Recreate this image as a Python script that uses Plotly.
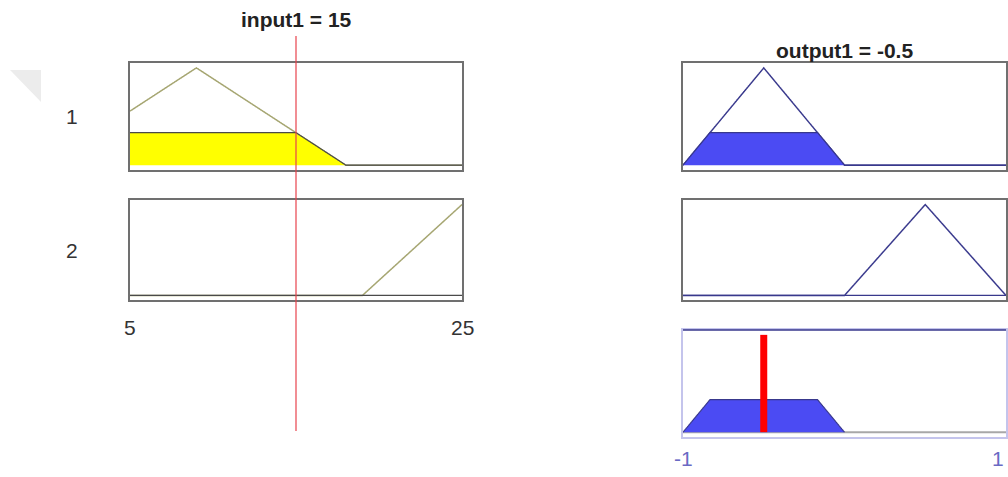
import numpy as np
import plotly.graph_objects as go

# Fuzzy system: one input, one output, two rules (input mf i -> output mf i)
input_name = "input1"
output_name = "output1"
input_range = [5, 25]
output_range = [-1, 1]
input_value = 15
input_mfs = [[0, 9, 18], [19, 25, 31]]          # trimf parameters
output_mfs = [[-1, -0.5, 0], [0, 0.5, 1]]       # trimf parameters
rule_labels = ["1", "2"]
input_tick_labels = ["5", "25"]
output_tick_labels = ["-1", "1"]


def trimf(x, p):
    a, b, c = p
    x = np.asarray(x, dtype=float)
    left = np.where(b > a, (x - a) / (b - a if b != a else 1), 1.0)
    right = np.where(c > b, (c - x) / (c - b if c != b else 1), 1.0)
    return np.clip(np.minimum(left, right), 0, 1)


xin = np.linspace(input_range[0], input_range[1], 1001)
xout = np.linspace(output_range[0], output_range[1], 2001)

firing = [float(trimf(input_value, p)) for p in input_mfs]
clipped = [np.minimum(trimf(xout, p), w) for p, w in zip(output_mfs, firing)]
aggregate = np.max(np.vstack(clipped), axis=0)
output_value = float(np.sum(xout * aggregate) / np.sum(aggregate))

W, H = 1008, 477
OLIVE = "#a6a672"
NAVY = "#38388c"
BLUE = "#4b4bf3"
FRAME = "#707070"
LAVENDER = "#c4c4ec"
LABEL_SIZE = 21
TITLE_SIZE = 21


def px(x):
    return x / W


def py(y):
    return 1 - y / H


left_dom = [px(130), px(462)]
right_dom = [px(683), px(1006)]
rows = [(63, 170), (200, 300), (330, 437)]
row_dom = [[py(b), py(t)] for t, b in rows]

fig = go.Figure()


def line(color, width):
    return dict(color=color, width=width, simplify=False)


# left column: input membership functions with the clipped (fired) area
for i, p in enumerate(input_mfs):
    ax = str(i + 1)
    fig.add_trace(go.Scatter(x=xin, y=trimf(xin, p), mode="lines",
                             line=line(OLIVE, 1.5),
                             xaxis="x" + ax, yaxis="y" + ax, hoverinfo="skip"))
    fig.add_trace(go.Scatter(x=xin, y=np.minimum(trimf(xin, p), firing[i]),
                             mode="lines", fill="tozeroy", fillcolor="#ffff00",
                             line=line("#4a4a4a", 1.2),
                             xaxis="x" + ax, yaxis="y" + ax, hoverinfo="skip"))

# right column: output membership functions with implication result
for i, p in enumerate(output_mfs):
    ax = str(i + 3)
    fig.add_trace(go.Scatter(x=xout, y=trimf(xout, p), mode="lines",
                             line=line(NAVY, 1.5),
                             xaxis="x" + ax, yaxis="y" + ax, hoverinfo="skip"))
    fig.add_trace(go.Scatter(x=xout, y=clipped[i], mode="lines",
                             fill="tozeroy", fillcolor=BLUE,
                             line=line(NAVY, 1.2),
                             xaxis="x" + ax, yaxis="y" + ax, hoverinfo="skip"))

# aggregated output
fig.add_trace(go.Scatter(x=[output_range[0], output_range[1]], y=[0, 0],
                         mode="lines", line=line("#a8a8a8", 2),
                         xaxis="x5", yaxis="y5", hoverinfo="skip"))
idx = np.nonzero(aggregate > 0)[0]
lo, hi = max(idx[0] - 1, 0), min(idx[-1] + 1, len(xout) - 1)
fig.add_trace(go.Scatter(x=xout[lo:hi + 1], y=aggregate[lo:hi + 1], mode="lines",
                         fill="toself", fillcolor=BLUE,
                         line=line(NAVY, 1.2),
                         xaxis="x5", yaxis="y5", hoverinfo="skip"))
fig.add_trace(go.Scatter(x=[output_value, output_value], y=[0, 1], mode="lines",
                         line=dict(color="#ff0000", width=7),
                         xaxis="x5", yaxis="y5", hoverinfo="skip"))

axis_common = dict(showgrid=False, zeroline=False, showticklabels=False,
                   ticks="", showline=True, mirror=True, fixedrange=True)
layout = dict(
    width=W, height=H, margin=dict(l=0, r=0, t=0, b=0),
    paper_bgcolor="white", plot_bgcolor="white", showlegend=False,
    font=dict(family="Liberation Sans, Arial, sans-serif", color="#222"),
)
panels = [
    (1, left_dom, row_dom[0], input_range, FRAME),
    (2, left_dom, row_dom[1], input_range, FRAME),
    (3, right_dom, row_dom[0], output_range, FRAME),
    (4, right_dom, row_dom[1], output_range, FRAME),
    (5, right_dom, row_dom[2], output_range, LAVENDER),
]
for n, xd, yd, xr, col in panels:
    s = "" if n == 1 else str(n)
    layout["xaxis" + s] = dict(axis_common, domain=xd, range=xr,
                               anchor="y" + str(n), linecolor=col, linewidth=1.5)
    layout["yaxis" + s] = dict(axis_common, domain=yd, range=[-0.05, 1.05],
                               anchor="x" + str(n), linecolor=col, linewidth=1.5)
fig.update_layout(**layout)

# navy top edge of the aggregate panel
fig.add_shape(type="line", xref="x5 domain", yref="y5 domain",
              x0=0, x1=1, y0=1, y1=1, line=dict(color=NAVY, width=1.5))

# input value indicator spanning the input column
fig.add_shape(type="line", xref="x2", yref="paper",
              x0=input_value, x1=input_value, y0=py(431), y1=py(36),
              line=dict(color="#e8424c", width=1.2), layer="above")

# faint corner marker
fig.add_shape(type="path", xref="paper", yref="paper",
              path=f"M {px(10)} {py(70)} L {px(41)} {py(70)} L {px(41)} {py(102)} Z",
              fillcolor="#ececec", line=dict(width=0), layer="below")

# titles
fig.add_annotation(x=px(296), y=py(19), xref="paper", yref="paper",
                   text=f"<b>{input_name} = {input_value:g}</b>", showarrow=False,
                   font=dict(size=TITLE_SIZE, color="#222"), xanchor="center", yanchor="middle")
fig.add_annotation(x=0.5, y=py(50), xref="x3 domain", yref="paper",
                   text=f"<b>{output_name} = {output_value:.3g}</b>", showarrow=False,
                   font=dict(size=TITLE_SIZE, color="#222"), xanchor="center", yanchor="middle")

# rule numbers
for i, lab in enumerate(rule_labels):
    fig.add_annotation(x=px(72), y=sum(row_dom[i]) / 2, xref="paper", yref="paper",
                       text=lab, showarrow=False, font=dict(size=LABEL_SIZE, color="#333"),
                       xanchor="center", yanchor="middle")

# range labels
for v, lab in zip(input_range, input_tick_labels):
    fig.add_annotation(x=v, y=py(327), xref="x2", yref="paper", text=lab,
                       showarrow=False, font=dict(size=LABEL_SIZE, color="#333"),
                       xanchor="center", yanchor="middle")
for v, lab, anchor in zip(output_range, output_tick_labels, ["center", "right"]):
    fig.add_annotation(x=v, y=py(458), xref="x5", yref="paper", text=lab,
                       showarrow=False, font=dict(size=LABEL_SIZE, color="#6a6ac4"),
                       xanchor=anchor, yanchor="middle")

fig.write_html("out.html")
